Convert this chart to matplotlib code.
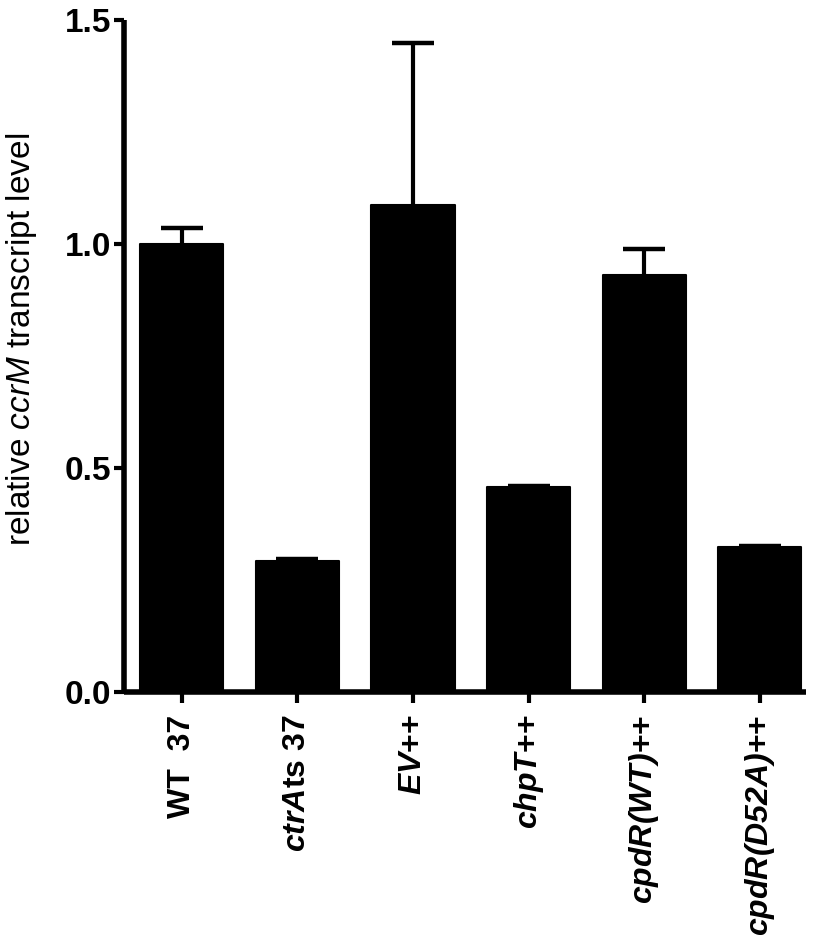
import matplotlib
matplotlib.use("Agg")
import numpy as np
from matplotlib import pyplot as plt

labels = [
    "WT  37",
    r"$\mathbfit{ctrA}$ts 37",
    r"$\mathbfit{EV}$++",
    r"$\mathbfit{chpT}$++",
    r"$\mathbfit{cpdR(WT)}$++",
    r"$\mathbfit{cpdR(D52A)}$++",
]
means = [1.0, 0.292, 1.087, 0.457, 0.931, 0.324]
err_up = [0.036, 0.005, 0.362, 0.003, 0.058, 0.003]
yticks = [0.0, 0.5, 1.0, 1.5]

plt.rcParams["font.family"] = ["Liberation Sans", "DejaVu Sans"]
plt.rcParams["mathtext.fontset"] = "custom"
plt.rcParams["mathtext.rm"] = "Liberation Sans"
plt.rcParams["mathtext.it"] = "Liberation Sans:italic"
plt.rcParams["mathtext.bf"] = "Liberation Sans:bold"
plt.rcParams["mathtext.bfit"] = "Liberation Sans:italic:bold"

fig = plt.figure(figsize=(8.2, 9.43), dpi=100)
ax = fig.add_axes([0.151, 0.266, 0.832, 0.713])

x = np.arange(len(labels))
ax.bar(x, means, width=0.72, color="black", edgecolor="black", linewidth=1.5,
       joinstyle="round", zorder=2)
eb = ax.errorbar(x, means, yerr=[np.zeros(len(x)), err_up], fmt="none", ecolor="black",
                 elinewidth=3, capsize=15, capthick=3.2, zorder=1)
# only the upper caps are wanted
eb[1][0].set_visible(False)

ax.set_ylim(0, 1.5)
ax.set_xlim(-0.5, 5.4)
ax.set_yticks(yticks)
ax.set_yticklabels([f"{t:.1f}" for t in yticks], fontsize=24, fontweight="bold")
ax.set_xticks(x)
ax.set_xticklabels(labels, rotation=90, fontsize=23, fontweight="bold")
ax.set_ylabel(r"relative $\mathit{ccrM}$ transcript level", fontsize=24)
ax.yaxis.set_label_coords(-0.124, 0.524)

for side in ("top", "right"):
    ax.spines[side].set_visible(False)
for side in ("left", "bottom"):
    ax.spines[side].set_linewidth(4)
    ax.spines[side].set_capstyle("butt")
ax.tick_params(axis="y", length=7, width=3, pad=2)
ax.tick_params(axis="x", length=8, width=3, pad=8)

fig.savefig("out.png", dpi=100)
